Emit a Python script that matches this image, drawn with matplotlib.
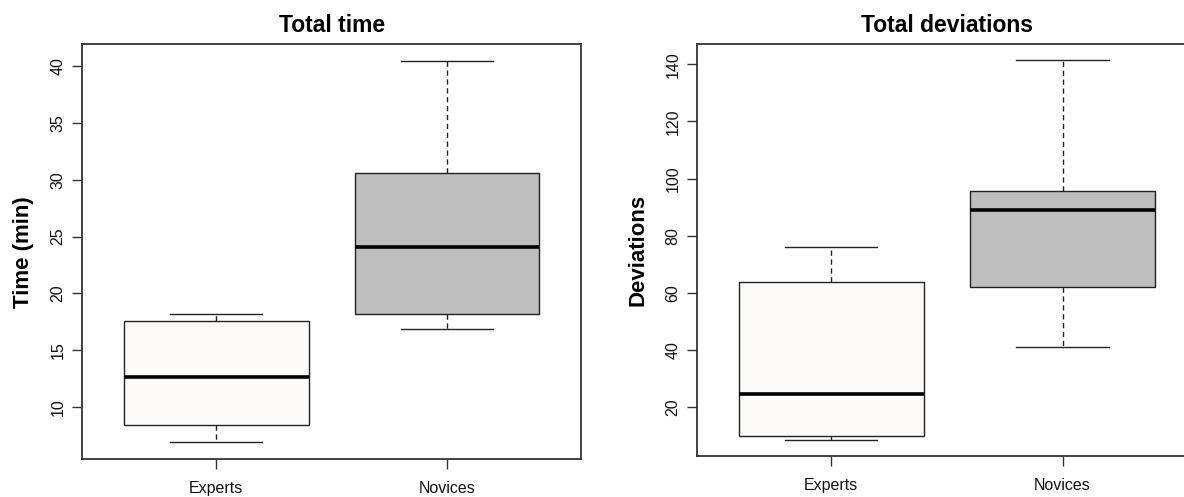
import matplotlib
matplotlib.use("Agg")
import matplotlib.pyplot as plt

plt.rcParams["font.family"] = ["Liberation Sans", "DejaVu Sans"]

# ---------------------------------------------------------------------------
# Data
# ---------------------------------------------------------------------------
groups = ["Experts", "Novices"]

time_whislo = [6.86, 16.9]
time_q1 = [8.38, 18.15]
time_med = [12.64, 24.06]
time_q3 = [17.54, 30.63]
time_whishi = [18.16, 40.5]

dev_whislo = [8.45, 41.1]
dev_q1 = [9.85, 62.0]
dev_med = [24.76, 89.1]
dev_q3 = [63.95, 95.8]
dev_whishi = [76.1, 141.6]

time_ticks = [10, 15, 20, 25, 30, 35, 40]
dev_ticks = [20, 40, 60, 80, 100, 120, 140]

fills = ["#fcfbfa", "#bebebe"]
EDGE = "#222222"
FRAME = "#333333"


def make_stats(lo, q1, med, q3, hi):
    return [
        {"label": g, "whislo": a, "q1": b, "med": c, "q3": d, "whishi": e, "fliers": []}
        for g, a, b, c, d, e in zip(groups, lo, q1, med, q3, hi)
    ]


def draw_panel(ax, stats, title, ylabel, ticks, ylim):
    bp = ax.bxp(
        stats,
        positions=[1, 2],
        widths=0.8,
        capwidths=0.4,
        patch_artist=True,
        showfliers=False,
        boxprops=dict(edgecolor=EDGE, linewidth=1.0),
        medianprops=dict(color="black", linewidth=2.6, solid_capstyle="butt"),
        whiskerprops=dict(color=EDGE, linewidth=1.0, linestyle=(0, (3.8, 2.6))),
        capprops=dict(color=EDGE, linewidth=1.0),
    )
    for patch, col in zip(bp["boxes"], fills):
        patch.set_facecolor(col)

    ax.set_xlim(0.42, 2.58)
    ax.set_ylim(*ylim)
    ax.set_yticks(ticks)
    ax.set_xticks([1, 2])
    ax.set_xticklabels(groups)

    for sp in ax.spines.values():
        sp.set_color(FRAME)
        sp.set_linewidth(1.3)

    ax.tick_params(axis="both", direction="out", length=7, width=1.0,
                   color=FRAME, labelsize=11.5, labelcolor="#111111")
    ax.tick_params(axis="y", pad=5)
    ax.tick_params(axis="x", pad=9)
    plt.setp(ax.get_yticklabels(), rotation=90, va="center")

    ax.set_title(title, fontsize=16.5, fontweight="bold", pad=9)
    ax.set_ylabel(ylabel, fontsize=16, fontweight="bold", va="center")
    ax.yaxis.set_label_coords(-0.118, 0.5)


fig = plt.figure(figsize=(11.84, 4.97), dpi=100)
ax1 = fig.add_axes([0.0695, 0.0765, 0.4212, 0.8344])
ax2 = fig.add_axes([0.5887, 0.0825, 0.422, 0.8284])

draw_panel(ax1, make_stats(time_whislo, time_q1, time_med, time_q3, time_whishi),
           "Total time", "Time (min)", time_ticks, (5.4, 41.95))
draw_panel(ax2, make_stats(dev_whislo, dev_q1, dev_med, dev_q3, dev_whishi),
           "Total deviations", "Deviations", dev_ticks, (3.0, 147.0))

fig.savefig("out.png", dpi=100)
